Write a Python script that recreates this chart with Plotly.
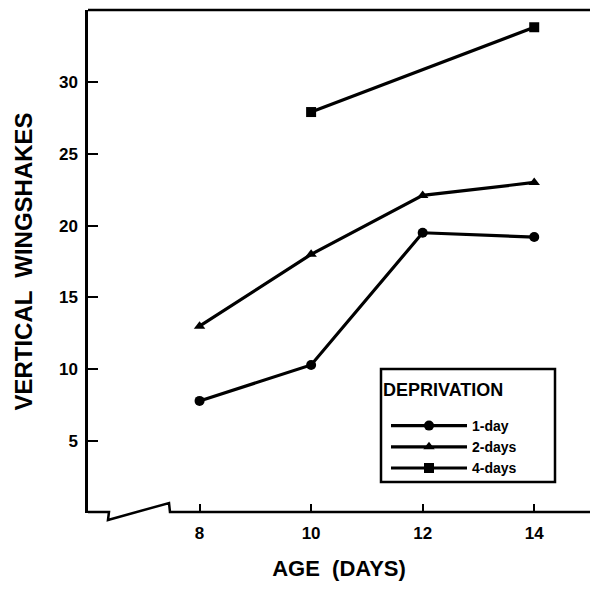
import plotly.graph_objects as go

age_1day = [8, 10, 12, 14]
val_1day = [7.8, 10.3, 19.5, 19.2]
age_2days = [8, 10, 12, 14]
val_2days = [13.0, 18.0, 22.1, 23.0]
age_4days = [10, 14]
val_4days = [27.9, 33.8]
x_ticks = [8, 10, 12, 14]
y_ticks = [5, 10, 15, 20, 25, 30]

W, H = 590, 597
L, R, T, B = 88, 0, 10, 84
pw, ph = W - L - R, H - T - B

def px(x):
    return (x - L) / pw

def py(y):
    return (H - B - y) / ph

font = "Liberation Sans, Arial, sans-serif"
fig = go.Figure()
for name, xs, ys, sym in [("1-day", age_1day, val_1day, "circle"),
                          ("2-days", age_2days, val_2days, "triangle-up"),
                          ("4-days", age_4days, val_4days, "square")]:
    fig.add_trace(go.Scatter(x=xs, y=ys, mode="lines+markers", name=name,
                             line=dict(color="black", width=3.2),
                             marker=dict(symbol=sym, size=10, color="black"),
                             cliponaxis=False))

pts = [(88, 512), (109, 512), (108, 520), (169, 503), (170, 512), (590, 512)]
path = "M " + " L ".join(f"{px(a):.4f},{py(b):.4f}" for a, b in pts)
shapes = [
    dict(type="path", xref="paper", yref="paper", path=path,
         line=dict(color="black", width=2.5)),
    dict(type="line", xref="paper", yref="paper", x0=0, x1=1, y0=1, y1=1,
         line=dict(color="black", width=2.5)),
    dict(type="rect", xref="paper", yref="paper", x0=px(381), x1=px(555),
         y0=py(482), y1=py(369), line=dict(color="black", width=2.5),
         fillcolor="white", layer="below"),
]

annotations = [
    dict(text="<b>DEPRIVATION</b>", xref="paper", yref="paper",
         x=px(381), y=py(390), xanchor="left", yanchor="middle",
         showarrow=False, font=dict(size=18, family=font, color="black")),
]

fig.update_layout(
    width=W, height=H,
    margin=dict(l=L, r=R, t=T, b=B, autoexpand=False),
    paper_bgcolor="white", plot_bgcolor="white",
    font=dict(family=font, color="black"),
    shapes=shapes,
    annotations=annotations,
    xaxis=dict(range=[6, 15], tickvals=x_ticks, ticks="inside", ticklen=9,
               tickwidth=2, tickcolor="black", showgrid=False, zeroline=False,
               showline=False, automargin=False, ticklabelstandoff=8,
               tickfont=dict(size=17, family=font, weight="bold"),
               title=dict(text="<b>AGE  (DAYS)</b>", font=dict(size=22), standoff=18)),
    yaxis=dict(range=[0, 35], tickvals=y_ticks, ticks="inside", ticklen=10,
               tickwidth=2, tickcolor="black", showgrid=False, zeroline=False,
               showline=True, linecolor="black", linewidth=2.5,
               automargin=False, ticklabelstandoff=4,
               tickfont=dict(size=17, family=font, weight="bold"),
               title=dict(text="<b>VERTICAL  WINGSHAKES</b>", font=dict(size=24), standoff=20)),
    legend=dict(x=px(386), y=py(410), xanchor="left", yanchor="top",
                borderwidth=0, bgcolor="rgba(0,0,0,0)",
                font=dict(size=14, family=font, weight="bold"),
                itemwidth=76, tracegroupgap=0),
    showlegend=True,
)
fig.write_html(
    "out.html",
    config={"displayModeBar": False},
    post_script="document.body.style.margin='0';document.body.style.overflow='hidden';",
)
